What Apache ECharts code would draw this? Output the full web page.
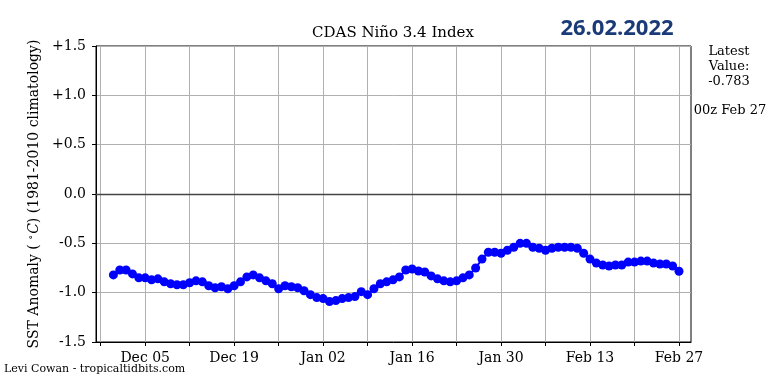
<!DOCTYPE html>
<html><head><meta charset="utf-8">
<script src="https://cdn.jsdelivr.net/npm/echarts@6/dist/echarts.min.js"></script>
<style>html,body{margin:0;padding:0;background:#fff}#c{width:768px;height:384px}</style>
</head><body><div id="c"></div><script>
// Day offsets are counted from Nov 28 2021 (first weekly tick)
const firstDay = 2; // Nov 30 2021, first daily value
const anomaly = [
  -0.82, -0.77, -0.77, -0.81, -0.85, -0.85, -0.87, -0.86, -0.89, -0.91,
  -0.92, -0.92, -0.90, -0.88, -0.89, -0.93, -0.95, -0.94, -0.96, -0.93,
  -0.89, -0.84, -0.82, -0.85, -0.88, -0.91, -0.96, -0.93, -0.94, -0.95,
  -0.98, -1.02, -1.05, -1.06, -1.09, -1.08, -1.06, -1.05, -1.04, -0.99,
  -1.02, -0.96, -0.91, -0.89, -0.87, -0.84, -0.77, -0.76, -0.78, -0.79,
  -0.83, -0.86, -0.88, -0.89, -0.88, -0.85, -0.82, -0.75, -0.66, -0.59,
  -0.59, -0.60, -0.57, -0.54, -0.50, -0.50, -0.54, -0.55, -0.57, -0.55,
  -0.54, -0.54, -0.54, -0.55, -0.60, -0.66, -0.70, -0.72, -0.73, -0.72,
  -0.72, -0.69, -0.69, -0.68, -0.68, -0.70, -0.71, -0.71, -0.73, -0.783
];
const xTickDays = [0, 7, 14, 21, 28, 35, 42, 49, 56, 63, 70, 77, 84, 91];
const xLabelDays = [7, 21, 35, 49, 63, 77, 91];
const xLabels = ['Dec 05', 'Dec 19', 'Jan 02', 'Jan 16', 'Jan 30', 'Feb 13', 'Feb 27'];
const yTicks = [-1.5, -1.0, -0.5, 0, 0.5, 1.0, 1.5];
const yTickLabels = ['-1.5', '-1.0', '-0.5', '0.0', '+0.5', '+1.0', '+1.5'];
const titleText = 'CDAS Niño 3.4 Index';
const stampText = '26.02.2022';
const latestLines = ['Latest', 'Value:', '-0.783'];
const validText = '00z Feb 27';
const creditText = 'Levi Cowan - tropicaltidbits.com';

const serif = '"DejaVu Serif", "Liberation Serif", serif';
const points = anomaly.map((v, i) => [firstDay + i, v]);

const chart = echarts.init(document.getElementById('c'), null, {renderer: 'canvas'});
chart.setOption({
  animation: false,
  backgroundColor: '#fff',
  grid: {left: 96, right: 77, top: 46, bottom: 42, show: true, borderColor: '#000', borderWidth: 1, backgroundColor: 'transparent'},
  xAxis: {
    type: 'value', min: -0.74, max: 92.89,
    axisLine: {show: true, onZero: false, lineStyle: {color: '#000', width: 1}},
    axisTick: {show: true, inside: false, length: 4, customValues: xTickDays, lineStyle: {color: '#000'}},
    axisLabel: {show: true, customValues: xLabelDays, margin: 9, color: '#000', fontFamily: serif, fontSize: 14,
      formatter: v => { const k = xLabelDays.indexOf(Math.round(v)); return k >= 0 ? xLabels[k] : ''; }},
    splitLine: {show: false}
  },
  yAxis: {
    type: 'value', min: -1.5, max: 1.5, interval: 0.5,
    axisLine: {show: true, onZero: false, lineStyle: {color: '#000', width: 1}},
    axisTick: {show: true, inside: false, length: 4, lineStyle: {color: '#000'}},
    axisLabel: {margin: 10, color: '#000', fontFamily: serif, fontSize: 14,
      formatter: v => { let k = -1; yTicks.forEach((t, j) => { if (Math.abs(t - v) < 1e-6) k = j; }); return k >= 0 ? yTickLabels[k] : ''; }},
    splitLine: {show: true, lineStyle: {color: '#b0b0b0', width: 1}},
    name: '{a|SST Anomaly ( }{s|∘}{i|C}{a|) (1981-2010 climatology)}',
    nameLocation: 'middle', nameRotate: 90, nameGap: 50,
    nameTextStyle: {fontFamily: serif, fontSize: 14, color: '#000',
      rich: {a: {fontFamily: serif, fontSize: 14, color: '#000'},
             s: {fontFamily: serif, fontSize: 10, color: '#000', padding: [0, 1, 6, 0]},
             i: {fontFamily: serif, fontSize: 14, fontStyle: 'italic', color: '#000'}}}
  },
  series: [{
    type: 'line', data: points, z: 3,
    symbol: 'circle', symbolSize: 9, showSymbol: true,
    itemStyle: {color: '#0000ff'},
    lineStyle: {color: '#0000ff', width: 2},
    markLine: {
      silent: true, symbol: ['none', 'none'], z: 1, animation: false,
      label: {show: false},
      data: xTickDays.map(d => ({xAxis: d, lineStyle: {color: '#b0b0b0', width: 1, type: 'solid'}}))
        .concat([{yAxis: 0, lineStyle: {color: '#444', width: 1.3, type: 'solid'}}])
    }
  }],
  graphic: [
    {type: 'text', style: {text: titleText, font: '15px ' + serif, fill: '#000', x: 393, y: 33, textAlign: 'center', textVerticalAlign: 'middle'}},
    {type: 'text', style: {text: stampText, font: 'bold 22px "Open Sans", "DejaVu Sans", sans-serif', fill: '#1a3a78', x: 617, y: 29, textAlign: 'center', textVerticalAlign: 'middle'}},
    {type: 'text', style: {text: latestLines[0], font: '13px ' + serif, fill: '#000', x: 729, y: 52, textAlign: 'center', textVerticalAlign: 'middle'}},
    {type: 'text', style: {text: latestLines[1], font: '13px ' + serif, fill: '#000', x: 729, y: 67, textAlign: 'center', textVerticalAlign: 'middle'}},
    {type: 'text', style: {text: latestLines[2], font: '13px ' + serif, fill: '#000', x: 729, y: 82, textAlign: 'center', textVerticalAlign: 'middle'}},
    {type: 'text', style: {text: validText, font: '13px ' + serif, fill: '#000', x: 730, y: 111, textAlign: 'center', textVerticalAlign: 'middle'}},
    {type: 'text', style: {text: creditText, font: '11px ' + serif, fill: '#000', x: 4, y: 369, textAlign: 'left', textVerticalAlign: 'middle'}}
  ]
});
</script></body></html>
